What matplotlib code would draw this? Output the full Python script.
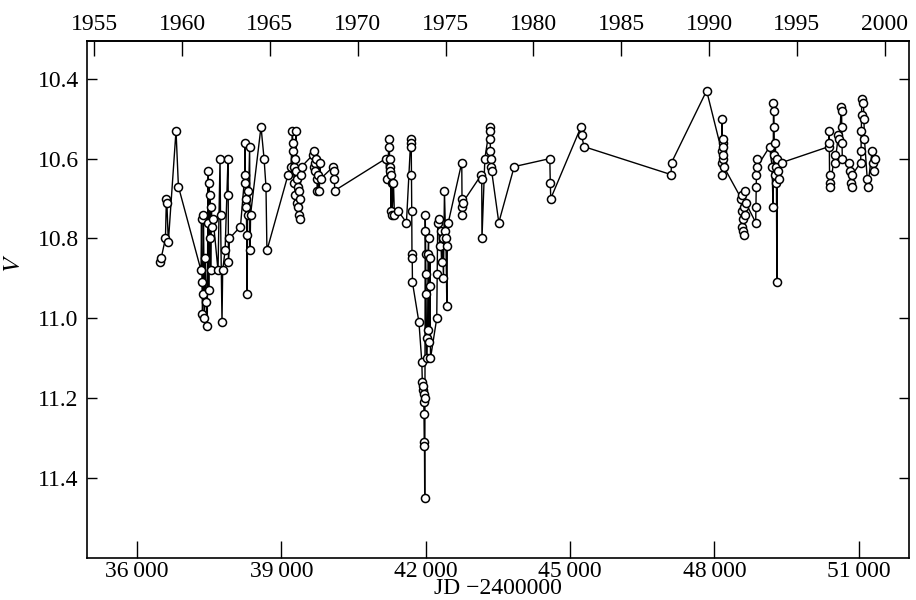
import matplotlib
matplotlib.use('Agg')
import matplotlib.pyplot as plt
from matplotlib.ticker import FuncFormatter, FixedLocator
import numpy as np

plt.rcParams['font.family'] = ['Liberation Serif', 'DejaVu Serif']
plt.rcParams['mathtext.fontset'] = 'stix'

# photometry, JD - 2400000 and V magnitude, in time order
jd = [
    36480, 36500, 36590, 36610, 36620, 36650, 36810, 36860,
    37330, 37340, 37350, 37360, 37370, 37380, 37400, 37420, 37440, 37460,
    37470, 37480, 37490, 37500, 37510, 37520, 37530, 37545, 37560, 37580,
    37683, 37725, 37735, 37766, 37780, 37830, 37891, 37895, 37900, 37920,
    38150, 38240, 38244, 38250, 38260, 38270, 38280, 38290, 38300, 38310,
    38340, 38350, 38360, 38577, 38640, 38680, 38700,
    39140, 39200, 39230, 39240, 39250, 39260, 39270, 39280, 39290, 39300,
    39310, 39320, 39330, 39340, 39350, 39360, 39370, 39380, 39390, 39400,
    39420, 39660, 39670, 39680, 39690, 39700, 39720, 39740, 39750, 39760,
    39790, 39800, 39820, 40080, 40090, 40100, 40110,
    41170, 41200, 41240, 41245, 41250, 41260, 41265, 41270, 41280, 41290,
    41300, 41330, 41350, 41420, 41600,
    41690, 41695, 41700, 41705, 41710, 41715, 41720, 41725, 41860,
    41920, 41930, 41940, 41950, 41955, 41960, 41965, 41970, 41975, 41980,
    41985, 41990, 41995, 42000, 42005, 42010, 42020, 42030, 42040, 42050,
    42060, 42070, 42080, 42090, 42100,
    42230, 42240, 42250, 42270, 42290, 42310, 42330, 42350, 42370, 42390,
    42410, 42420, 42440, 42450, 42470,
    42750, 42755, 42760, 42765, 42770,
    43160, 43165, 43170, 43230, 43330, 43335, 43340, 43345, 43350, 43360,
    43370, 43520, 43840, 44580, 44590, 44600, 45230, 45240, 45290,
    47100, 47110, 47840,
    48150, 48155, 48160, 48165, 48170, 48175, 48180, 48185, 48190, 48195,
    48560, 48570, 48575, 48580, 48590, 48600, 48610, 48620, 48630, 48640,
    48650, 48860, 48865, 48870, 48875, 48880, 48890,
    49150, 49200, 49220, 49230, 49235, 49240, 49250, 49260, 49270, 49280,
    49290, 49300, 49310, 49320, 49350, 49400,
    50380, 50385, 50390, 50395, 50400, 50410, 50500, 50510, 50580, 50600,
    50640, 50645, 50650, 50655, 50660, 50800, 50820, 50840, 50860, 50870,
    51040, 51050, 51055, 51060, 51065, 51100, 51110, 51120, 51180, 51190,
    51280, 51300, 51320, 51330,
]
vmag = [
    10.86, 10.85, 10.80, 10.70, 10.71, 10.81, 10.53, 10.67,
    10.88, 10.75, 10.91, 10.99, 10.94, 10.74, 11.00, 10.85, 10.96, 11.02,
    10.76, 10.63, 10.93, 10.66, 10.80, 10.69, 10.88, 10.72, 10.77, 10.75,
    10.88, 10.60, 10.74, 11.01, 10.88, 10.83, 10.60, 10.69, 10.86, 10.80,
    10.77, 10.64, 10.56, 10.66, 10.70, 10.72, 10.79, 10.94, 10.68, 10.74,
    10.57, 10.83, 10.74, 10.52, 10.60, 10.67, 10.83,
    10.64, 10.62, 10.53, 10.58, 10.56, 10.62, 10.66, 10.60, 10.69, 10.53,
    10.63, 10.71, 10.65, 10.72, 10.67, 10.74, 10.68, 10.70, 10.75, 10.64,
    10.62, 10.59, 10.62, 10.58, 10.61, 10.63, 10.60, 10.65, 10.68, 10.64,
    10.68, 10.61, 10.65, 10.62, 10.63, 10.65, 10.68,
    10.60, 10.65, 10.55, 10.57, 10.60, 10.62, 10.63, 10.64, 10.73, 10.66,
    10.74, 10.66, 10.74, 10.73, 10.76,
    10.55, 10.56, 10.57, 10.64, 10.73, 10.84, 10.85, 10.91, 11.01,
    11.11, 11.16, 11.18, 11.17, 11.19, 11.21, 11.24, 11.31, 11.32, 11.45,
    11.20, 10.74, 10.78, 10.84, 10.89, 10.94, 11.10, 11.05, 11.03, 10.84,
    10.80, 11.06, 10.92, 10.85, 11.10,
    11.00, 10.89, 10.76, 10.75, 10.82, 10.78, 10.86, 10.80, 10.90, 10.68,
    10.78, 10.80, 10.97, 10.82, 10.76,
    10.61, 10.70, 10.72, 10.74, 10.71,
    10.64, 10.65, 10.80, 10.60, 10.52, 10.53, 10.55, 10.58, 10.60, 10.62,
    10.63, 10.76, 10.62, 10.60, 10.66, 10.70, 10.52, 10.54, 10.57,
    10.64, 10.61, 10.43,
    10.58, 10.64, 10.50, 10.61, 10.56, 10.60, 10.55, 10.57, 10.59, 10.62,
    10.70, 10.73, 10.77, 10.69, 10.75, 10.78, 10.72, 10.79, 10.74, 10.68,
    10.71, 10.76, 10.72, 10.67, 10.64, 10.60, 10.62,
    10.57, 10.62, 10.72, 10.46, 10.48, 10.52, 10.59, 10.64, 10.56, 10.66,
    10.62, 10.91, 10.60, 10.63, 10.65, 10.61,
    10.57, 10.53, 10.56, 10.64, 10.66, 10.67, 10.59, 10.61, 10.54, 10.55,
    10.47, 10.48, 10.52, 10.56, 10.60, 10.61, 10.63, 10.66, 10.67, 10.64,
    10.61, 10.58, 10.53, 10.49, 10.45, 10.46, 10.50, 10.55, 10.65, 10.67,
    10.58, 10.61, 10.63, 10.60,
]

jd_ticks = [36000, 39000, 42000, 45000, 48000, 51000]
v_ticks = [10.4, 10.6, 10.8, 11.0, 11.2, 11.4]
year_ticks = [1955, 1960, 1965, 1970, 1975, 1980, 1985, 1990, 1995, 2000]


def jd2yr(x):
    return 2000.0 + (np.asarray(x) - 51544.5) / 365.25


def yr2jd(y):
    return 51544.5 + (np.asarray(y) - 2000.0) * 365.25


fig = plt.figure(figsize=(9.16, 6.0), dpi=100)
ax = fig.add_axes([0.095, 0.07, 0.897, 0.862])

ax.plot(jd, vmag, color='k', lw=1.0, marker='o', ms=5.8, mfc='white',
        mec='k', mew=1.1)

ax.set_xlim(34960, 52040)
ax.set_ylim(11.6, 10.305)

ax.xaxis.set_major_locator(FixedLocator(jd_ticks))
ax.xaxis.set_major_formatter(FuncFormatter(
    lambda v, p: '%d\u2009000' % (v // 1000)))
ax.yaxis.set_major_locator(FixedLocator(v_ticks))
ax.yaxis.set_major_formatter(FuncFormatter(lambda v, p: '%.1f' % v))

ax.tick_params(axis='x', direction='in', length=12, width=1.0,
               labelsize=17, pad=2, top=False)
ax.tick_params(axis='y', direction='in', length=7, width=1.0,
               labelsize=17, right=True, pad=6)

top = ax.secondary_xaxis('top', functions=(jd2yr, yr2jd))
top.xaxis.set_major_locator(FixedLocator(year_ticks))
top.xaxis.set_major_formatter(FuncFormatter(lambda v, p: '%d' % round(v)))
top.tick_params(direction='in', length=11, width=1.0, labelsize=17, pad=4)

for s in ax.spines.values():
    s.set_linewidth(1.2)
top.spines['top'].set_linewidth(1.2)

ax.set_xlabel('JD \u22122400000', fontsize=17, labelpad=-3)
ax.set_ylabel('$V$', fontsize=18, labelpad=8)
ax.yaxis.set_label_coords(-0.075, 0.57)

fig.savefig('out.png', dpi=100)
